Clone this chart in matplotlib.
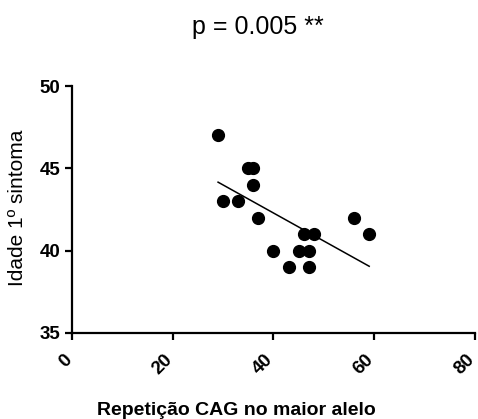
import numpy as np
import matplotlib
matplotlib.use("Agg")
import matplotlib.pyplot as plt
from matplotlib.transforms import ScaledTranslation

# data
cag_repeats = [29, 30, 33, 35, 36, 36, 37, 40, 43, 45, 46, 47, 47, 48, 56, 59]
age_first_symptom = [47, 43, 43, 45, 45, 44, 42, 40, 39, 40, 41, 40, 39, 41, 42, 41]
x_ticks = [0, 20, 40, 60, 80]
y_ticks = [35, 40, 45, 50]

title_text = "p = 0.005 **"
x_label = "Repetição CAG no maior alelo"
y_label = "Idade 1º sintoma"

plt.rcParams['font.family'] = ['Liberation Sans', 'DejaVu Sans']

fig = plt.figure(figsize=(4.78, 4.19), dpi=100)
ax = fig.add_axes([0.1506, 0.2053, 0.9937 - 0.1506, 0.7947 - 0.2053])

x = np.array(cag_repeats, dtype=float)
y = np.array(age_first_symptom, dtype=float)

ax.plot(x, y, 'o', color='black', markersize=8.5)

# linear regression line over the data range
slope, intercept = np.polyfit(x, y, 1)
xl = np.array([x.min(), x.max()])
ax.plot(xl, slope * xl + intercept, color='black', linewidth=1.1)

ax.set_xlim(0, 80)
ax.set_ylim(35, 50)
ax.set_xticks(x_ticks)
ax.set_yticks(y_ticks)

for side in ['top', 'right']:
    ax.spines[side].set_visible(False)
for side in ['left', 'bottom']:
    ax.spines[side].set_linewidth(1.6)

ax.tick_params(direction='out', length=5, width=1.6)
ax.tick_params(axis='y', pad=3.5)
ax.tick_params(axis='x', pad=8)
ax.set_yticklabels([str(v) for v in y_ticks], fontsize=13.5, fontweight='bold')
ax.set_xticklabels([str(v) for v in x_ticks], fontsize=13.5, fontweight='bold',
                   rotation=45, ha='right', va='top')
shift = ScaledTranslation(3 / 100, 0, fig.dpi_scale_trans)
for lab in ax.get_xticklabels():
    lab.set_transform(lab.get_transform() + shift)

fig.text(258 / 478, 1 - 27 / 419, title_text, fontsize=18, ha='center', va='center')
fig.text(18 / 478, 1 - 208 / 419, y_label, fontsize=15, rotation=90,
         ha='center', va='center')
fig.text(236 / 478, 1 - 410 / 419, x_label, fontsize=14, fontweight='bold',
         ha='center', va='center')

fig.savefig('out.png', dpi=100)
